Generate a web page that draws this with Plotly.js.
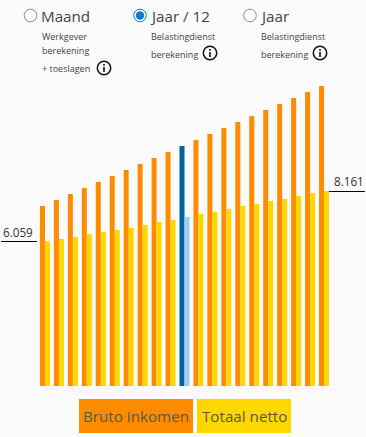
<!DOCTYPE html>
<html><head><meta charset="utf-8">
<script src="https://cdn.plot.ly/plotly-3.0.1.min.js"></script>
<style>html,body{margin:0;padding:0;background:#fbfbfb;overflow:hidden}</style>
</head><body><div id="chart" style="width:366px;height:437px"></div>
<script>
var categories = ["1","2","3","4","5","6","7","8","9","10","11","12","13","14","15","16","17","18","19","20","21"];
var brutoInkomen = [7531,7782,8033,8285,8536,8787,9038,9289,9540,9791,10042,10293,10544,10795,11046,11297,11548,11799,12050,12301,12552];
var totaalNetto = [6059,6151,6234,6360,6444,6527,6611,6736,6862,6946,7071,7197,7280,7406,7531,7615,7741,7824,7950,8075,8161];
var selectedIndex = 10;
var leftLabel = "6.059", rightLabel = "8.161";

var ORANGE="#ff8c00", YELLOW="#ffd700", DARK="#00659c", LIGHT="#9fd0ea", TXT="#444444";
var L=38,T=80,W=293,H=306;
function fx(x){return (x-L)/W;}
function fy(y){return (T+H-y)/H;}
function t(x,y,text,size,color,anchor){return {xref:'paper',yref:'paper',x:fx(x),y:fy(y),text:text,showarrow:false,xanchor:anchor||'left',yanchor:'middle',font:{family:'"Open Sans",sans-serif',size:size,color:color||TXT},borderpad:0,borderwidth:0};}
function circle(cx,cy,r,line,lw,fill){return {type:'circle',xref:'paper',yref:'paper',x0:fx(cx-r),x1:fx(cx+r),y0:fy(cy+r),y1:fy(cy-r),line:{color:line,width:lw},fillcolor:fill||'rgba(0,0,0,0)'};}
function rect(x0,y0,x1,y1,fill){return {type:'rect',xref:'paper',yref:'paper',x0:fx(x0),x1:fx(x1),y0:fy(y1),y1:fy(y0),line:{width:0},fillcolor:fill};}
function line(x0,y0,x1,y1){return {type:'line',xref:'paper',yref:'paper',x0:fx(x0),x1:fx(x1),y0:fy(y0),y1:fy(y1),line:{color:'#000',width:1}};}
function info(cx,cy){return [circle(cx,cy,6.7,'#111',1.5),rect(cx-0.8,cy-4,cx+0.8,cy-2.3,'#111'),rect(cx-0.8,cy-1,cx+0.8,cy+4,'#111')];}

var shapes=[
 circle(30.5,15.5,6.3,'#8a8a8a',1,'#fff'),
 circle(140,15.5,6.3,'#0a78d7',1,'#fff'),
 circle(140,15.5,4.2,'#0a78d7',0,'#0a78d7'),
 circle(250,15.5,6.3,'#8a8a8a',1,'#fff'),
 line(1,241.5,37,241.5),
 line(329,191.5,365,191.5),
 rect(79,399,193,433,ORANGE),
 rect(197,399,291,433,YELLOW)
].concat(info(104,68),info(210,53),info(320,53));

var annotations=[
 t(41,16,'Maand',15.2),t(150,16,'Jaar / 12',15.2),t(260,16,'Jaar',15.2),
 t(42,36,'Werkgever',9),t(42,51,'berekening',9),t(42,69,'+ toeslagen',9),
 t(151,36,'Belastingdienst',9),t(151,54,'berekening',9),
 t(261,36,'Belastingdienst',9),t(261,54,'berekening',9),
 t(3,232,leftLabel,11.7,'#333'),t(334,181,rightLabel,11.7,'#333'),
 t(136,416,'Bruto inkomen',15.2,'#5a5a3c','center'),t(244.5,416,'Totaal netto',15.2,'#5a5a3c','center')
];

function colors(base,sel){return categories.map(function(_,i){return i===selectedIndex?sel:base;});}
var data=[
 {type:'bar',name:'Bruto inkomen',x:categories,y:brutoInkomen,marker:{color:colors(ORANGE,DARK),line:{width:0}},hoverinfo:'y'},
 {type:'bar',name:'Totaal netto',x:categories,y:totaalNetto,marker:{color:colors(YELLOW,LIGHT),line:{width:0}},hoverinfo:'y'}
];
var layout={
 width:366,height:437,margin:{l:L,r:366-L-W,t:T,b:437-T-H,pad:0},
 paper_bgcolor:'#fbfbfb',plot_bgcolor:'#fbfbfb',showlegend:false,
 barmode:'group',bargap:0.283,bargroupgap:0,
 xaxis:{type:'category',visible:false,range:[-0.5,20.5],fixedrange:true},
 yaxis:{visible:false,range:[0,12803],fixedrange:true},
 shapes:shapes,annotations:annotations
};
Plotly.newPlot('chart',data,layout,{displayModeBar:false,staticPlot:true});
</script></body></html>
